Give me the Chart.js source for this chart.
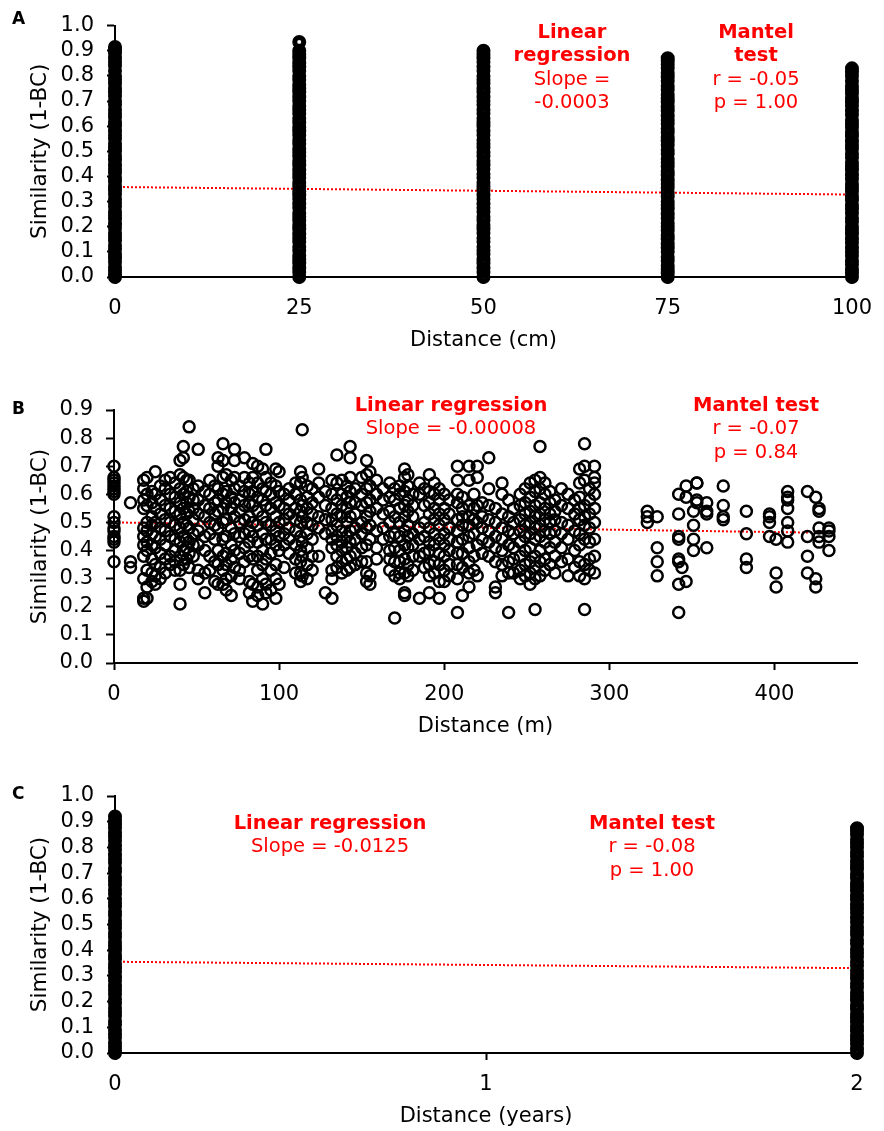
<!DOCTYPE html>
<html><head><meta charset="utf-8">
<script src="https://cdn.jsdelivr.net/npm/chart.js@4.4.1/dist/chart.umd.min.js"></script>
<style>
html,body{margin:0;padding:0;background:#fff;}
#wrap{position:relative;width:884px;height:1131px;overflow:hidden;font-family:"DejaVu Sans",Verdana,sans-serif;}
canvas{position:absolute;left:0;}
.ann{position:absolute;color:#ff0000;font-size:19.5px;line-height:23.3px;text-align:center;white-space:nowrap;transform:translateX(-50%);}
.ann b{font-weight:bold;}
.lbl{position:absolute;font-weight:bold;font-size:17px;line-height:17px;color:#000;}
</style></head><body>
<div id="wrap">
<canvas id="cA" width="884" height="355" style="top:0px"></canvas>
<canvas id="cB" width="884" height="386" style="top:355px"></canvas>
<canvas id="cC" width="884" height="390" style="top:741px"></canvas>
<div class="lbl" style="left:12px;top:10px">A</div>
<div class="lbl" style="left:12px;top:400px">B</div>
<div class="lbl" style="left:12px;top:785px">C</div>
<div class="ann" style="left:572px;top:20px"><b>Linear</b><br><b>regression</b><br>Slope =<br>-0.0003</div>
<div class="ann" style="left:756px;top:20px"><b>Mantel</b><br><b>test</b><br>r = -0.05<br>p = 1.00</div>
<div class="ann" style="left:451px;top:393px"><b>Linear regression</b><br>Slope = -0.00008</div>
<div class="ann" style="left:756px;top:393px"><b>Mantel test</b><br>r = -0.07<br>p = 0.84</div>
<div class="ann" style="left:330px;top:811px"><b>Linear regression</b><br>Slope = -0.0125</div>
<div class="ann" style="left:652px;top:811px"><b>Mantel test</b><br>r = -0.08<br>p = 1.00</div>
</div>
<script>
// ---------- Panel A : distance (cm) ----------
const distA = [0, 25, 50, 75, 100];
const simA0 = [0.915,0.905,0.89,0.87,0.855,0.84,0.82,0.80,0.785,0.77,0.75,0.735,0.72,0.70,0.685,0.665,0.65,0.635,0.615,0.60,0.58,0.565,0.55,0.53,0.515,0.50,0.48,0.465,0.445,0.43,0.415,0.395,0.38,0.36,0.345,0.33,0.31,0.295,0.28,0.26,0.245,0.23,0.21,0.195,0.175,0.16,0.145,0.125,0.11,0.09,0.075,0.06,0.04,0.025,0.01,0.0];
const simA25 = [0.935,0.90,0.885,0.87,0.85,0.835,0.82,0.80,0.785,0.765,0.75,0.735,0.715,0.70,0.68,0.665,0.65,0.63,0.615,0.595,0.58,0.565,0.545,0.53,0.51,0.495,0.48,0.46,0.445,0.425,0.41,0.395,0.375,0.36,0.34,0.325,0.31,0.29,0.275,0.255,0.24,0.225,0.205,0.19,0.17,0.155,0.14,0.12,0.105,0.085,0.07,0.055,0.035,0.02,0.0];
const simA50 = [0.90,0.885,0.87,0.855,0.835,0.82,0.80,0.785,0.77,0.75,0.735,0.715,0.70,0.685,0.665,0.65,0.63,0.615,0.60,0.58,0.565,0.545,0.53,0.515,0.495,0.48,0.46,0.445,0.43,0.41,0.395,0.375,0.36,0.345,0.325,0.31,0.29,0.275,0.26,0.24,0.225,0.205,0.19,0.175,0.155,0.14,0.12,0.105,0.09,0.07,0.055,0.035,0.02,0.0];
const simA75 = [0.87,0.86,0.845,0.83,0.81,0.795,0.78,0.76,0.745,0.725,0.71,0.695,0.675,0.66,0.64,0.625,0.61,0.59,0.575,0.555,0.54,0.525,0.505,0.49,0.47,0.455,0.44,0.42,0.405,0.385,0.37,0.355,0.335,0.32,0.30,0.285,0.27,0.25,0.235,0.215,0.20,0.185,0.165,0.15,0.13,0.115,0.10,0.08,0.065,0.045,0.03,0.015,0.0];
const simA100 = [0.83,0.815,0.80,0.78,0.76,0.745,0.73,0.71,0.695,0.68,0.66,0.645,0.625,0.61,0.595,0.575,0.56,0.54,0.525,0.51,0.49,0.475,0.455,0.44,0.425,0.405,0.39,0.37,0.355,0.34,0.32,0.305,0.285,0.27,0.255,0.235,0.22,0.20,0.185,0.17,0.15,0.135,0.115,0.10,0.085,0.065,0.05,0.03,0.015,0.0];
const simA = [simA0, simA25, simA50, simA75, simA100];
const fitA = [[0, 0.358], [100, 0.328]];
const xTicksA = [0, 25, 50, 75, 100];
const yTicksA = [0, 0.1, 0.2, 0.3, 0.4, 0.5, 0.6, 0.7, 0.8, 0.9, 1.0];

// ---------- Panel B : distance (m) ----------
const distB = [0,10,18,20,23,25,28,31,34,37,40,42,44,45.5,48,51,55,58,61,63,66,68,71,73,76,79,82,84,87,90,92,95,98,100,103,106,110,113,114,117,120,124,128,132,135,138,141,143,146,150,153,155,159,163,167,170,173,176,178,181,185,188,191,194,197,
  200,203,208,211,215,218,220,223,227,231,235,239,242,246,249,252,255,258,261,264,267,271,275,279,282,285,288,291,
  323,329,342,344,346.5,351,353,359,369,383,397,401,408,420,425,427,433];
const simB = [
 [0.70,0.66,0.65,0.64,0.63,0.62,0.61,0.60,0.52,0.50,0.48,0.47,0.45,0.44,0.43,0.36],
 [0.57,0.36,0.34],
 [0.65,0.62,0.58,0.55,0.48,0.45,0.42,0.38,0.30,0.23,0.22],
 [0.66,0.60,0.56,0.50,0.47,0.43,0.40,0.33,0.27,0.23],
 [0.61,0.57,0.52,0.49,0.46,0.42,0.37,0.32,0.29],
 [0.68,0.60,0.55,0.50,0.45,0.41,0.35,0.31,0.28],
 [0.63,0.58,0.53,0.48,0.44,0.39,0.34,0.30],
 [0.65,0.62,0.56,0.51,0.47,0.42,0.37,0.32],
 [0.66,0.60,0.55,0.50,0.45,0.38,0.35],
 [0.64,0.59,0.54,0.49,0.44,0.40,0.36,0.33],
 [0.72,0.67,0.62,0.57,0.53,0.48,0.43,0.38,0.33,0.28,0.21],
 [0.77,0.73,0.66,0.60,0.55,0.50,0.45,0.40,0.35],
 [0.65,0.61,0.57,0.53,0.49,0.44,0.41,0.37],
 [0.84,0.65,0.59,0.54,0.48,0.43,0.39,0.34],
 [0.62,0.58,0.55,0.51,0.46,0.42,0.38],
 [0.76,0.63,0.58,0.53,0.47,0.42,0.33,0.30],
 [0.61,0.56,0.52,0.45,0.40,0.32,0.25],
 [0.65,0.60,0.55,0.50,0.46,0.38,0.33],
 [0.63,0.57,0.53,0.49,0.44,0.36,0.29],
 [0.73,0.70,0.62,0.58,0.54,0.48,0.40,0.35,0.28],
 [0.78,0.72,0.66,0.60,0.55,0.50,0.44,0.38,0.33,0.28],
 [0.67,0.61,0.57,0.51,0.45,0.39,0.35,0.30,0.26],
 [0.65,0.59,0.55,0.48,0.42,0.37,0.31,0.24],
 [0.76,0.72,0.66,0.62,0.57,0.52,0.46,0.40,0.34],
 [0.63,0.58,0.54,0.50,0.45,0.39,0.33,0.30],
 [0.73,0.66,0.61,0.56,0.51,0.46,0.41,0.36],
 [0.64,0.60,0.57,0.52,0.47,0.43,0.38,0.29,0.25],
 [0.71,0.66,0.61,0.56,0.50,0.45,0.37,0.28,0.22],
 [0.70,0.64,0.59,0.54,0.49,0.43,0.38,0.33,0.27,0.24],
 [0.69,0.62,0.58,0.52,0.46,0.40,0.35,0.30,0.21],
 [0.76,0.66,0.61,0.56,0.50,0.44,0.37,0.28,0.25],
 [0.64,0.60,0.55,0.49,0.44,0.39,0.33,0.26],
 [0.69,0.63,0.57,0.52,0.47,0.42,0.35,0.30,0.23],
 [0.68,0.61,0.56,0.50,0.45,0.40,0.28],
 [0.60,0.55,0.51,0.46,0.42,0.34],
 [0.62,0.58,0.53,0.48,0.44,0.39],
 [0.64,0.60,0.55,0.51,0.47,0.42,0.37,0.32],
 [0.68,0.64,0.58,0.54,0.50,0.45,0.40,0.36,0.32,0.29],
 [0.83,0.66,0.56,0.52,0.43,0.38,0.31],
 [0.63,0.59,0.55,0.50,0.46,0.41,0.35,0.30],
 [0.62,0.57,0.53,0.49,0.44,0.38,0.33],
 [0.69,0.64,0.59,0.52,0.48,0.38],
 [0.61,0.56,0.51,0.46,0.25],
 [0.65,0.60,0.55,0.51,0.47,0.44,0.41,0.33,0.30,0.23],
 [0.74,0.64,0.58,0.53,0.49,0.45,0.42,0.38,0.34],
 [0.65,0.60,0.56,0.52,0.47,0.43,0.40,0.36,0.32],
 [0.63,0.59,0.55,0.50,0.45,0.41,0.37,0.33],
 [0.77,0.73,0.66,0.61,0.57,0.52,0.47,0.43,0.38,0.34],
 [0.62,0.57,0.53,0.48,0.44,0.39,0.35],
 [0.66,0.60,0.56,0.50,0.46,0.41,0.36],
 [0.72,0.67,0.62,0.57,0.52,0.48,0.42,0.36,0.32,0.29],
 [0.68,0.63,0.58,0.54,0.49,0.44,0.31,0.28],
 [0.65,0.60,0.55,0.47,0.41,0.37],
 [0.62,0.58,0.53,0.48,0.44],
 [0.64,0.59,0.54,0.50,0.45,0.40,0.37,0.33],
 [0.62,0.58,0.52,0.46,0.41,0.36,0.31,0.16],
 [0.63,0.60,0.55,0.50,0.45,0.40,0.36,0.32,0.30],
 [0.69,0.66,0.61,0.56,0.52,0.47,0.42,0.37,0.32,0.25,0.24],
 [0.67,0.63,0.58,0.54,0.49,0.45,0.41,0.35,0.31],
 [0.60,0.56,0.52,0.46,0.42,0.38,0.33],
 [0.64,0.60,0.48,0.44,0.38,0.23],
 [0.62,0.56,0.50,0.45,0.39,0.34],
 [0.67,0.61,0.57,0.53,0.48,0.43,0.40,0.35,0.31,0.25],
 [0.64,0.60,0.55,0.51,0.46,0.42,0.36,0.32],
 [0.62,0.58,0.53,0.49,0.44,0.39,0.35,0.29,0.23],
 [0.60,0.55,0.51,0.46,0.42,0.38,0.33,0.29],
 [0.58,0.53,0.48,0.44,0.40,0.35,0.31],
 [0.70,0.65,0.60,0.57,0.51,0.47,0.43,0.39,0.35,0.30,0.18],
 [0.59,0.55,0.52,0.49,0.44,0.39,0.34,0.24],
 [0.70,0.65,0.56,0.52,0.49,0.45,0.41,0.36,0.32,0.27],
 [0.60,0.55,0.51,0.46,0.38,0.33],
 [0.70,0.66,0.56,0.50,0.42,0.31],
 [0.57,0.52,0.48,0.44,0.39],
 [0.73,0.62,0.56,0.51,0.47,0.43,0.38],
 [0.55,0.50,0.45,0.41,0.36,0.27,0.25],
 [0.64,0.60,0.53,0.48,0.44,0.40,0.35,0.31],
 [0.58,0.52,0.47,0.42,0.36,0.32,0.18],
 [0.55,0.50,0.46,0.41,0.37,0.32],
 [0.60,0.56,0.51,0.47,0.43,0.38,0.33,0.30],
 [0.62,0.57,0.53,0.49,0.45,0.40,0.35,0.31],
 [0.64,0.59,0.54,0.50,0.46,0.41,0.36,0.32,0.28],
 [0.65,0.61,0.56,0.52,0.48,0.44,0.38,0.34,0.30,0.19],
 [0.77,0.66,0.62,0.57,0.53,0.49,0.45,0.40,0.36,0.31],
 [0.64,0.60,0.55,0.51,0.47,0.43,0.37,0.33],
 [0.61,0.57,0.53,0.50,0.46,0.41,0.35],
 [0.58,0.54,0.51,0.47,0.43,0.38,0.32],
 [0.62,0.56,0.50,0.46,0.41,0.36],
 [0.60,0.55,0.49,0.44,0.37,0.31],
 [0.58,0.53,0.47,0.40,0.34],
 [0.69,0.64,0.59,0.55,0.51,0.46,0.42,0.36,0.31],
 [0.78,0.70,0.65,0.56,0.52,0.49,0.44,0.35,0.30,0.19],
 [0.62,0.58,0.53,0.48,0.43,0.37,0.33],
 [0.70,0.66,0.64,0.60,0.55,0.50,0.44,0.38,0.32],
 [0.54,0.52,0.50],
 [0.52,0.41,0.36,0.31],
 [0.60,0.53,0.45,0.44,0.37,0.36,0.28,0.18],
 [0.34],
 [0.63,0.59,0.29],
 [0.54,0.49,0.44,0.40],
 [0.64,0.64,0.58,0.57],
 [0.57,0.54,0.53,0.41],
 [0.63,0.56,0.52,0.51],
 [0.54,0.46,0.37,0.34],
 [0.53,0.52,0.50,0.45],
 [0.44,0.32,0.27],
 [0.61,0.59,0.58,0.55,0.50,0.47,0.43],
 [0.61,0.45,0.38,0.32],
 [0.59,0.30,0.27],
 [0.55,0.54,0.48,0.45,0.43],
 [0.48,0.47,0.45,0.40]
];
const fitB = [[0, 0.500], [433, 0.463]];
const xTicksB = [0, 100, 200, 300, 400];
const yTicksB = [0, 0.1, 0.2, 0.3, 0.4, 0.5, 0.6, 0.7, 0.8, 0.9];

// ---------- Panel C : distance (years) ----------
const distC = [0, 2];
const simC0 = [0.92,0.905,0.89,0.875,0.855,0.84,0.825,0.805,0.79,0.77,0.755,0.74,0.72,0.705,0.685,0.67,0.655,0.635,0.62,0.60,0.585,0.57,0.55,0.535,0.515,0.50,0.485,0.465,0.45,0.43,0.415,0.40,0.38,0.365,0.345,0.33,0.315,0.295,0.28,0.26,0.245,0.23,0.21,0.195,0.175,0.16,0.145,0.125,0.11,0.09,0.075,0.06,0.04,0.025,0.01,0.0];
const simC2 = [0.875,0.865,0.85,0.83,0.815,0.80,0.78,0.765,0.745,0.73,0.715,0.695,0.68,0.66,0.645,0.63,0.61,0.595,0.575,0.56,0.545,0.525,0.51,0.49,0.475,0.46,0.44,0.425,0.405,0.39,0.375,0.355,0.34,0.32,0.305,0.29,0.27,0.255,0.235,0.22,0.205,0.185,0.17,0.15,0.135,0.12,0.10,0.085,0.065,0.05,0.035,0.015,0.0];
const simC = [simC0, simC2];
const fitC = [[0, 0.355], [2, 0.330]];
const xTicksC = [0, 1, 2];
const yTicksC = [0, 0.1, 0.2, 0.3, 0.4, 0.5, 0.6, 0.7, 0.8, 0.9, 1.0];

// ---------- builder ----------
const FONT = "'DejaVu Sans', Verdana, sans-serif";
Chart.defaults.font.family = FONT;
Chart.defaults.color = '#000';

function columnsToPoints(xs, cols) {
  const pts = [];
  xs.forEach((x, i) => cols[i].forEach(y => pts.push({x: x, y: y})));
  return pts;
}

function build(id, o) {
  const pts = columnsToPoints(o.xs, o.cols);
  new Chart(document.getElementById(id), {
    type: 'scatter',
    data: {
      datasets: [
        {
          data: pts, pointStyle: 'circle', pointRadius: o.r, pointHoverRadius: o.r,
          pointBorderColor: '#000', pointBackgroundColor: 'rgba(0,0,0,0)', pointBorderWidth: o.bw,
          borderColor: '#000', backgroundColor: 'rgba(0,0,0,0)', borderWidth: o.bw, showLine: false, clip: false
        },
        {
          type: 'line', data: o.fit.map(p => ({x: p[0], y: p[1]})),
          borderColor: '#ff0000', borderWidth: 2, borderDash: [2, 2], pointRadius: 0, fill: false, clip: false
        }
      ]
    },
    options: {
      responsive: false, animation: false, devicePixelRatio: 1,
      layout: {padding: o.pad},
      plugins: {legend: {display: false}, tooltip: {enabled: false}},
      events: [],
      scales: {
        x: {
          type: 'linear', min: o.xmin, max: o.xmax,
          afterBuildTicks: a => { a.ticks = o.xTicks.map(v => ({value: v})); },
          afterFit: a => { a.height = 78; },
          border: {display: true, color: '#000', width: 2},
          grid: {display: true, drawOnChartArea: false, drawTicks: true, tickLength: 7, tickColor: '#000', tickWidth: 2},
          ticks: {color: '#000', font: {family: FONT, size: 21}, padding: 12, autoSkip: false, maxRotation: 0, callback: v => String(v)},
          title: {display: true, text: o.xTitle, color: '#000', font: {family: FONT, size: 21}, padding: {top: 0, bottom: 2}}
        },
        y: {
          type: 'linear', min: o.ymin, max: o.ymax,
          afterBuildTicks: a => { a.ticks = o.yTicks.map(v => ({value: v})); },
          afterFit: a => { a.width = o.yW; },
          border: {display: true, color: '#000', width: 2},
          grid: {display: true, drawOnChartArea: false, drawTicks: true, tickLength: 8, tickColor: '#000', tickWidth: 2},
          ticks: {color: '#000', font: {family: FONT, size: 21}, padding: 13, autoSkip: false, callback: v => Number(v).toFixed(1)},
          title: {display: true, text: 'Similarity (1-BC)', color: '#000', font: {family: FONT, size: 21.5}, padding: {top: 28, bottom: 0}}
        }
      }
    }
  });
}

build('cA', {xs: distA, cols: simA, fit: fitA, xTicks: xTicksA, yTicks: yTicksA, xmin: 0, xmax: 100, ymin: 0, ymax: 1.0,
  xTitle: 'Distance (cm)', pad: {top: 22, right: 24, left: 0, bottom: 0}, yW: 115, r: 4.5, bw: 5});
build('cB', {xs: distB, cols: simB, fit: fitB, xTicks: xTicksB, yTicks: yTicksB, xmin: 0, xmax: 450, ymin: 0, ymax: 0.9,
  xTitle: 'Distance (m)', pad: {top: 55, right: 27, left: 0, bottom: 0}, yW: 114, r: 5.5, bw: 2.5});
build('cC', {xs: distC, cols: simC, fit: fitC, xTicks: xTicksC, yTicks: yTicksC, xmin: 0, xmax: 2, ymin: 0, ymax: 1.0,
  xTitle: 'Distance (years)', pad: {top: 55, right: 27, left: 0, bottom: 0}, yW: 115, r: 4.5, bw: 5});
</script>
</body></html>
